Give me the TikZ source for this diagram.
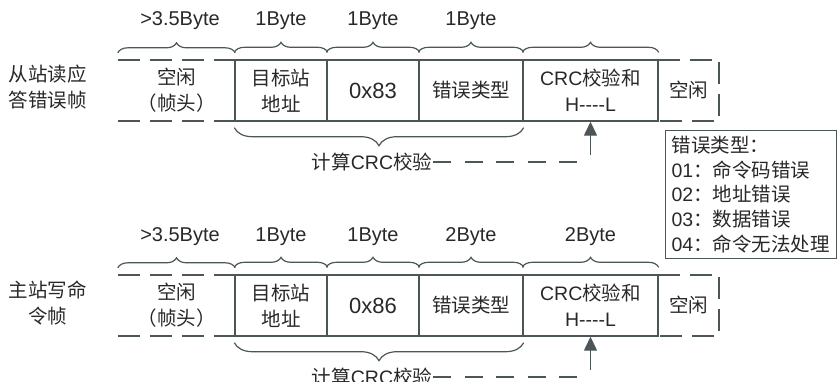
\documentclass[tikz,border=0pt]{standalone}
\usepackage{fontspec}
\setmainfont{Liberation Sans}
\newfontfamily\zh{Noto Sans CJK SC}
\usetikzlibrary{decorations.pathreplacing,arrows.meta}
\definecolor{linea}{RGB}{76,86,86}
\definecolor{texto}{RGB}{40,40,40}

\begin{document}
\begin{tikzpicture}[x=1pt,y=-1pt,
	celda/.style={draw=linea,line width=1.4pt,minimum height=61pt,inner sep=0pt,align=center,text=texto,font=\fontsize{19.5}{26}\selectfont},
	vacia/.style={minimum height=61pt,inner sep=0pt,align=center,text=texto},
	chino/.style={font=\zh\fontsize{19.5}{26}\selectfont},
	hueco/.style={draw=linea,line width=2.4pt,dash pattern=on 22pt off 10pt},
	llave/.style={draw=linea,line width=1.2pt,decorate,decoration={brace,amplitude=10pt}},
	llavebaja/.style={draw=linea,line width=1.2pt,decorate,decoration={brace,amplitude=18pt}},
	bytes/.style={text=texto,font=\fontsize{20}{22}\selectfont},
	rotulo/.style={text=texto,align=center,font=\zh\fontsize{19.5}{26}\selectfont},
	calculo/.style={text=texto,inner sep=1pt,font=\fontsize{19.5}{22}\selectfont},
	raya/.style={draw=linea,line width=2.4pt,dash pattern=on 18pt off 13.5pt},
	flecha/.style={draw=linea,line width=1.4pt,-{Triangle[width=13pt,length=14pt]}}]

	\useasboundingbox (0,0) rectangle (838,381);

	%Trama 1: respuesta de error del esclavo
	\node[rotulo] (t1) at (48,87.5) {从站读应\\答错误帧};
	\node[vacia,chino,minimum width=117pt] (i1) at (176.5,90.5) {空闲\\（帧头）};
	\node[celda,chino,minimum width=92pt] (d1) at (281,90.5) {目标站\\地址};
	\node[celda,font=\fontsize{22}{26}\selectfont,minimum width=92pt] (o1) at (373,90.5) {0x83};
	\node[celda,chino,minimum width=104pt] (e1) at (471,90.5) {错误类型};
	\node[celda,minimum width=135pt] (c1) at (590.5,90.5) {CRC{\zh 校验和}\\H-{}-{}-{}-L};
	\node[vacia,chino,minimum width=61pt] (v1) at (688.5,90.5) {空闲};
	%Bordes de los huecos
	\draw[hueco] (i1.north west) -- (i1.north east);
	\draw[hueco] (i1.south west) -- (i1.south east);
	\draw[hueco] (v1.north west) -- (v1.north east) -- (v1.south east) -- (v1.south west);
	%Llaves y bytes
	\draw[llave] ([yshift=7pt]i1.north west) -- ([yshift=7pt]i1.north east);
	\draw[llave] ([yshift=7pt]d1.north west) -- ([yshift=7pt]d1.north east);
	\draw[llave] ([yshift=7pt]o1.north west) -- ([yshift=7pt]o1.north east);
	\draw[llave] ([yshift=7pt]e1.north west) -- ([yshift=7pt]e1.north east);
	\draw[llave] ([yshift=7pt]c1.north west) -- ([yshift=7pt]c1.north east);
	\node[bytes] (b11) at (180,21) {>3.5Byte};
	\node[bytes] (b12) at (281,21) {1Byte};
	\node[bytes] (b13) at (373,21) {1Byte};
	\node[bytes] (b14) at (471,21) {1Byte};
	%Calculo CRC
	\draw[llavebaja] ([yshift=-6pt]e1.south east) -- ([yshift=-6pt]d1.south west);
	\node[calculo] (k1) at (372,162) {{\zh 计算}CRC{\zh 校验}};
	\coordinate (f1) at (577,162);
	\coordinate (g1) at (590.5,155);
	\draw[raya] (k1.east) -- (f1);
	\draw[flecha] (g1) -- (c1.south);

	%Tipos de error
	\node[draw=linea,line width=1.2pt,anchor=north west,align=left,text=texto,inner xsep=6pt,inner ysep=0pt,
	      text width=159pt,minimum height=128pt,font=\fontsize{19.5}{24.75}\selectfont] (tipos) at (665,130)
	      {{\zh 错误类型：}\\01{\zh ：命令码错误}\\02{\zh ：地址错误}\\03{\zh ：数据错误}\\04{\zh ：命令无法处理}};

	%Trama 2: escritura del maestro
	\node[rotulo] (t2) at (48,303) {主站写命\\令帧};
	\node[vacia,chino,minimum width=117pt] (i2) at (176.5,305.5) {空闲\\（帧头）};
	\node[celda,chino,minimum width=92pt] (d2) at (281,305.5) {目标站\\地址};
	\node[celda,font=\fontsize{22}{26}\selectfont,minimum width=92pt] (o2) at (373,305.5) {0x86};
	\node[celda,chino,minimum width=104pt] (e2) at (471,305.5) {错误类型};
	\node[celda,minimum width=135pt] (c2) at (590.5,305.5) {CRC{\zh 校验和}\\H-{}-{}-{}-L};
	\node[vacia,chino,minimum width=61pt] (v2) at (688.5,305.5) {空闲};
	%Bordes de los huecos
	\draw[hueco] (i2.north west) -- (i2.north east);
	\draw[hueco] (i2.south west) -- (i2.south east);
	\draw[hueco] (v2.north west) -- (v2.north east) -- (v2.south east) -- (v2.south west);
	%Llaves y bytes
	\draw[llave] ([yshift=7pt]i2.north west) -- ([yshift=7pt]i2.north east);
	\draw[llave] ([yshift=7pt]d2.north west) -- ([yshift=7pt]d2.north east);
	\draw[llave] ([yshift=7pt]o2.north west) -- ([yshift=7pt]o2.north east);
	\draw[llave] ([yshift=7pt]e2.north west) -- ([yshift=7pt]e2.north east);
	\draw[llave] ([yshift=7pt]c2.north west) -- ([yshift=7pt]c2.north east);
	\node[bytes] (b21) at (180,237) {>3.5Byte};
	\node[bytes] (b22) at (281,237) {1Byte};
	\node[bytes] (b23) at (373,237) {1Byte};
	\node[bytes] (b24) at (471,237) {2Byte};
	\node[bytes] (b25) at (590.5,237) {2Byte};
	%Calculo CRC
	\draw[llavebaja] ([yshift=-6pt]e2.south east) -- ([yshift=-6pt]d2.south west);
	\node[calculo] (k2) at (372,377) {{\zh 计算}CRC{\zh 校验}};
	\coordinate (f2) at (577,377);
	\coordinate (g2) at (590.5,370);
	\draw[raya] (k2.east) -- (f2);
	\draw[flecha] (g2) -- (c2.south);

\end{tikzpicture}
\end{document}
